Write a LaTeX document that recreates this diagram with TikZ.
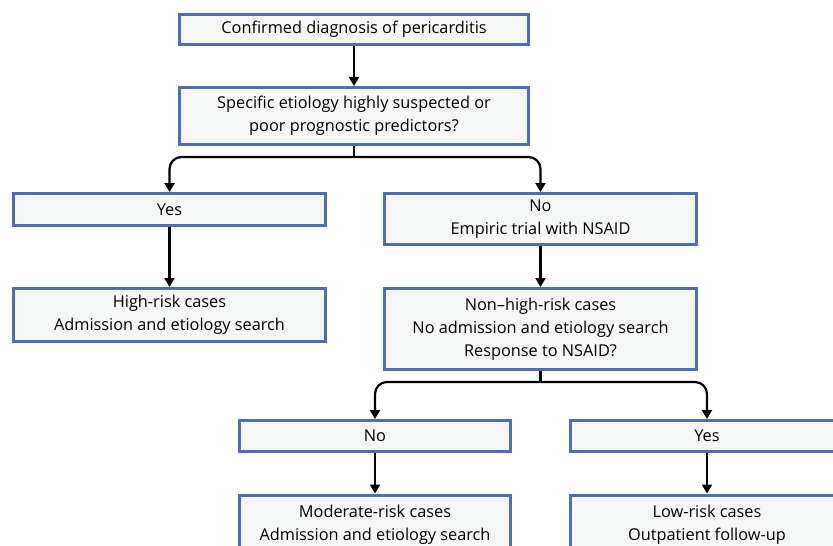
\documentclass[tikz,border=0pt]{standalone}
\usepackage{fontspec}
\setmainfont{Open Sans}
\usetikzlibrary{arrows.meta,calc}
\definecolor{boxblue}{HTML}{4F6DB5}
\definecolor{boxfill}{HTML}{F5F6F6}
\begin{document}
\begin{tikzpicture}[x=1pt,y=-1pt,
  txt/.style={font=\fontsize{16.3}{23}\selectfont},
  fbox/.style={draw=boxblue,fill=boxfill,line width=3pt,align=center,inner sep=0pt,txt},
  conn/.style={line width=2.2pt,black,-{Triangle[length=9pt,width=10pt]}},
  plain/.style={line width=2.2pt,black}]
\useasboundingbox (0,0) rectangle (833,546);
\node[fbox,minimum width=349pt,minimum height=30pt] (b1) at (354,29.5) {Confirmed diagnosis of pericarditis};
\node[fbox,minimum width=349pt,minimum height=57pt] (b2) at (354,116) {Specific etiology highly suspected or\\poor prognostic predictors?};
\node[fbox,minimum width=312pt,minimum height=32pt] (yes1) at (169.5,209.5) {Yes};
\node[fbox,minimum width=312pt,minimum height=51pt] (no1) at (540.5,219) {No\\Empiric trial with NSAID};
\node[fbox,minimum width=312pt,minimum height=53pt] (hr) at (169.5,315) {High-risk cases\\Admission and etiology search};
\node[fbox,minimum width=312pt,minimum height=81pt] (nhr) at (540.5,329) {Non–high-risk cases\\No admission and etiology search\\Response to NSAID?};
\node[fbox,minimum width=271pt,minimum height=31pt] (no2) at (375,436) {No};
\node[fbox,minimum width=273pt,minimum height=31pt] (yes2) at (707,436) {Yes};
\node[fbox,minimum width=271pt,minimum height=68pt,anchor=north] (mod) at (375,493.5) {};
\node[fbox,minimum width=273pt,minimum height=68pt,anchor=north] (low) at (707,493.5) {};
\node[txt,align=center,anchor=north,inner sep=0pt] (modt) at (375,504.5) {Moderate-risk cases\\Admission and etiology search};
\node[txt,align=center,anchor=north,inner sep=0pt] (lowt) at (707,504.5) {Low-risk cases\\Outpatient follow-up};
\draw[conn] (b1) -- (b2);
\coordinate (j1) at ($(b2.south)+(0,11)$);
\draw[plain] (b2.south) -- (j1);
\draw[conn,rounded corners=12pt] (j1) -| (yes1.north);
\draw[conn,rounded corners=12pt] (j1) -| (no1.north);
\draw[conn] (yes1) -- (hr);
\draw[conn] (no1) -- (nhr);
\coordinate (j2) at ($(nhr.south)+(0,11)$);
\draw[plain] (nhr.south) -- (j2);
\draw[conn,rounded corners=12pt] (j2) -| (no2.north);
\draw[conn,rounded corners=12pt] (j2) -| (yes2.north);
\draw[conn] (no2) -- (mod);
\draw[conn] (yes2) -- (low);
\end{tikzpicture}
\end{document}
